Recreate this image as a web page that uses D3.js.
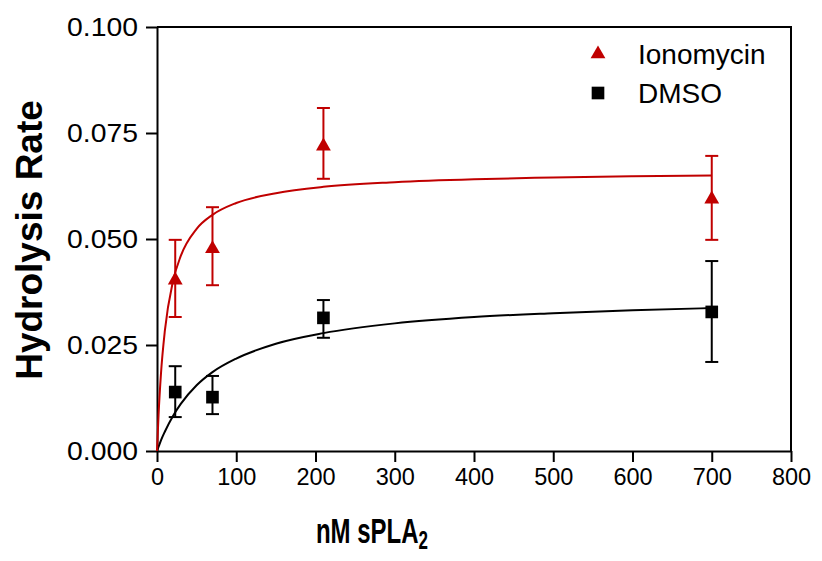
<!DOCTYPE html>
<html>
<head>
<meta charset="utf-8">
<script src="https://cdn.jsdelivr.net/npm/d3@7"></script>
<style>
body { margin: 0; background: #fff; }
svg { display: block; font-family: "Liberation Sans", Arial, sans-serif; }
.axis path, .axis line { stroke: #000; stroke-width: 2; }
.axis text { fill: #000; }
</style>
</head>
<body>
<div id="chart"></div>
<script>
// data
const xTicks = [0, 100, 200, 300, 400, 500, 600, 700, 800];
const yTicks = [0, 0.025, 0.05, 0.075, 0.1];

const ionoX = [23, 70, 210, 700];
const ionoY = [0.0403, 0.0477, 0.0719, 0.0594];
const ionoLo = [0.0316, 0.0391, 0.0642, 0.0498];
const ionoHi = [0.0498, 0.0575, 0.0809, 0.0696];

const dmsoX = [23, 70, 210, 700];
const dmsoY = [0.0139, 0.0127, 0.0314, 0.0328];
const dmsoLo = [0.0080, 0.0087, 0.0267, 0.0210];
const dmsoHi = [0.0200, 0.0177, 0.0356, 0.0448];

// fitted curves
const fitX = [0, 2, 5, 10, 20, 30, 50, 70, 100, 150, 210, 300, 400, 500, 600, 700];
const ionoFit = [0, 0.0087, 0.0182, 0.0285, 0.0399, 0.0460, 0.0524, 0.0557, 0.0585, 0.0608, 0.0623, 0.0634, 0.0641, 0.0645, 0.0648, 0.0650];
const dmsoFit = [0, 0.0010, 0.0025, 0.0046, 0.0082, 0.0111, 0.0155, 0.0186, 0.0218, 0.0253, 0.0278, 0.0301, 0.0316, 0.0325, 0.0332, 0.0337];

const RED = "#c00000";
const BLACK = "#000";

const svgWidth = 822;
const svgHeight = 561;

const svg = d3.select("#chart")
.append("svg")
.attr("width", svgWidth)
.attr("height", svgHeight);

const scaleX = d3.scaleLinear().domain([0, 800]).range([157, 791]);
const scaleY = d3.scaleLinear().domain([0, 0.1]).range([451, 27]);

// frame (top + right)
svg.append("path")
.attr("d", `M${scaleX(0)},${scaleY(0.1)}H${scaleX(800)}V${scaleY(0)}`)
.attr("fill", "none")
.attr("stroke", "#000")
.attr("stroke-width", 2);

// axes
const gx = svg.append("g")
.attr("class", "axis")
.attr("transform", `translate(0,${scaleY(0)})`)
.call(d3.axisBottom(scaleX).tickValues(xTicks).tickSize(11).tickPadding(6).tickSizeOuter(0));
gx.selectAll("text").attr("font-size", 23.5);

const gy = svg.append("g")
.attr("class", "axis")
.attr("transform", `translate(${scaleX(0)},0)`)
.call(d3.axisLeft(scaleY).tickValues(yTicks).tickFormat(d3.format(".3f")).tickSize(11).tickPadding(8).tickSizeOuter(0));
gy.selectAll("text")
.attr("font-size", 25)
.attr("textLength", 71)
.attr("lengthAdjust", "spacingAndGlyphs");

// axis titles
svg.append("text")
.attr("transform", "translate(42,240) rotate(-90)")
.attr("text-anchor", "middle")
.attr("font-size", 37)
.attr("font-weight", "bold")
.text("Hydrolysis Rate");

const xt = svg.append("text")
.attr("transform", "translate(372,543) scale(1,1.5)")
.attr("text-anchor", "middle")
.attr("font-size", 24)
.attr("font-weight", "bold");
xt.append("tspan").text("nM sPLA");
xt.append("tspan").attr("font-size", 17).attr("dy", 4).text("2");

// fit lines
const line = d3.line().x(d => scaleX(d[0])).y(d => scaleY(d[1])).curve(d3.curveMonotoneX);

svg.append("path")
.datum(fitX.map((x, i) => [x, dmsoFit[i]]))
.attr("d", line)
.attr("fill", "none")
.attr("stroke", BLACK)
.attr("stroke-width", 2);

svg.append("path")
.datum(fitX.map((x, i) => [x, ionoFit[i]]))
.attr("d", line)
.attr("fill", "none")
.attr("stroke", RED)
.attr("stroke-width", 2);

const tri = d3.symbol().type(d3.symbolTriangle).size(95);
const sq = d3.symbol().type(d3.symbolSquare).size(160);

function drawSeries(xs, ys, lo, hi, color, sym) {
  const data = xs.map((x, i) => ({ x, y: ys[i], lo: lo[i], hi: hi[i] }));
  const g = svg.append("g");
  const bars = g.selectAll(".err").data(data).enter().append("g")
  .attr("stroke", color)
  .attr("stroke-width", 2);
  bars.append("line")
  .attr("x1", d => scaleX(d.x)).attr("x2", d => scaleX(d.x))
  .attr("y1", d => scaleY(d.lo)).attr("y2", d => scaleY(d.hi));
  bars.append("line")
  .attr("x1", d => scaleX(d.x) - 6.5).attr("x2", d => scaleX(d.x) + 6.5)
  .attr("y1", d => scaleY(d.lo)).attr("y2", d => scaleY(d.lo));
  bars.append("line")
  .attr("x1", d => scaleX(d.x) - 6.5).attr("x2", d => scaleX(d.x) + 6.5)
  .attr("y1", d => scaleY(d.hi)).attr("y2", d => scaleY(d.hi));
  g.selectAll(".pt").data(data).enter().append("path")
  .attr("d", sym)
  .attr("transform", d => `translate(${scaleX(d.x)},${scaleY(d.y)})`)
  .attr("fill", color);
}

drawSeries(dmsoX, dmsoY, dmsoLo, dmsoHi, BLACK, sq);
drawSeries(ionoX, ionoY, ionoLo, ionoHi, RED, tri);

// legend
const legend = [
  { name: "Ionomycin", color: RED, sym: tri, y: 54 },
  { name: "DMSO", color: BLACK, sym: sq, y: 93 }
];
legend.forEach(l => {
  svg.append("path")
  .attr("d", l.sym)
  .attr("transform", `translate(598,${l.y})`)
  .attr("fill", l.color);
  svg.append("text")
  .attr("x", 638)
  .attr("y", l.y + 10)
  .attr("font-size", 28)
  .text(l.name);
});
</script>
</body>
</html>
